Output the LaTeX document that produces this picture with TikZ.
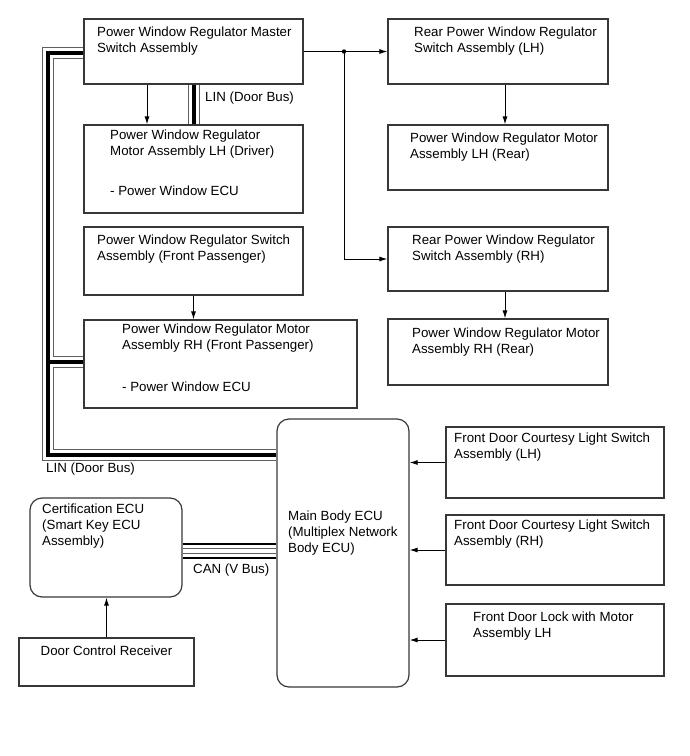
\documentclass[tikz,border=0pt]{standalone}
\usepackage{fontspec}
\setmainfont{Liberation Sans}
\usepackage{tikz}
\usetikzlibrary{arrows.meta}
\definecolor{boxline}{RGB}{55,55,55}
\definecolor{busgray}{RGB}{95,95,95}
\newcommand{\diafont}{\fontsize{13.3}{16}\selectfont}
\tikzset{
  box/.style={rectangle, draw=boxline, line width=1.2pt, inner sep=0pt},
  ecubox/.style={box, rounded corners=12pt},
  txt/.style={anchor=north west, align=left, inner sep=0pt, font=\diafont},
  arrow/.style={-{Latex[length=8pt,width=5pt]}, line width=1pt, color=black},
  linbus/.style={line width=4pt, color=black,
    preaction={draw=busgray, line width=12pt},
    preaction={draw=white, line width=10pt}},
  canbus/.style={line width=3.5pt, color=white,
    preaction={draw=black, line width=16pt},
    preaction={draw=white, line width=12pt},
    preaction={draw=busgray, line width=5.5pt}}
}

\begin{document}
\begin{tikzpicture}[x=1pt, y=-1pt]
  \useasboundingbox (0,0) rectangle (690,756);

  % window side
  \node[box, minimum width=219, minimum height=65] (master) at (193.5,51.5) {};
  \node[box, minimum width=219, minimum height=88] (driver) at (193.5,169) {};
  \node[box, minimum width=219, minimum height=68] (fpswitch) at (193.5,261) {};
  \node[box, minimum width=273, minimum height=88] (fpmotor) at (220.5,364) {};
  \node[box, minimum width=220, minimum height=65] (rlswitch) at (498,51.5) {};
  \node[box, minimum width=220, minimum height=65] (rlmotor) at (498,157.5) {};
  \node[box, minimum width=220, minimum height=64] (rrswitch) at (498,259) {};
  \node[box, minimum width=220, minimum height=66] (rrmotor) at (498,352) {};

  % body side
  \node[ecubox, minimum width=132, minimum height=268] (mainecu) at (343,553) {};
  \node[box, minimum width=218, minimum height=71] (courtlh) at (555,462.5) {};
  \node[box, minimum width=218, minimum height=70] (courtrh) at (555,550) {};
  \node[box, minimum width=218, minimum height=72] (doorlock) at (555,640) {};
  \node[ecubox, minimum width=152, minimum height=99] (certecu) at (106,547.5) {};
  \node[box, minimum width=175, minimum height=48] (receiver) at (106.5,662) {};

  \node[txt] (tmaster) at (97,27) {Power Window Regulator Master\\Switch Assembly};
  \node[txt] (tdriver) at (110,130) {Power Window Regulator\\Motor Assembly LH (Driver)\\[24pt]- Power Window ECU};
  \node[txt] (tfpswitch) at (97,235) {Power Window Regulator Switch\\Assembly (Front Passenger)};
  \node[txt] (tfpmotor) at (122,324) {Power Window Regulator Motor\\Assembly RH (Front Passenger)\\[26pt]- Power Window ECU};
  \node[txt] (trlswitch) at (414,27) {Rear Power Window Regulator\\Switch Assembly (LH)};
  \node[txt] (trlmotor) at (410,133) {Power Window Regulator Motor\\Assembly LH (Rear)};
  \node[txt] (trrswitch) at (412,235) {Rear Power Window Regulator\\Switch Assembly (RH)};
  \node[txt] (trrmotor) at (412,328) {Power Window Regulator Motor\\Assembly RH (Rear)};
  \node[txt] (tmainecu) at (288,511) {Main Body ECU\\(Multiplex Network\\Body ECU)};
  \node[txt] (tcourtlh) at (454,433) {Front Door Courtesy Light Switch\\Assembly (LH)};
  \node[txt] (tcourtrh) at (454,520) {Front Door Courtesy Light Switch\\Assembly (RH)};
  \node[txt] (tdoorlock) at (473,612) {Front Door Lock with Motor\\Assembly LH};
  \node[txt] (tcertecu) at (42,504) {Certification ECU\\(Smart Key ECU\\Assembly)};
  \node[txt, anchor=north] (treceiver) at (receiver.north |- 0,646) {Door Control Receiver};
  \node[txt] (linup) at (205,92) {LIN (Door Bus)};
  \node[txt] (lindown) at (46,463) {LIN (Door Bus)};
  \node[txt] (canlbl) at (193,564) {CAN (V Bus)};

  % buses
  \coordinate (linstart) at ([yshift=-1.5pt]master.west);
  \coordinate (lintop) at (48,53);
  \coordinate (lintee) at (48,362);
  \coordinate (linbot) at (48,455);
  \draw[linbus] (linstart) -- (lintop) -- (linbot) -- (linbot -| mainecu.west)
    (lintee) -- (lintee -| fpmotor.west);
  \draw[linbus] (master.south) -- (master.south |- driver.north);
  \coordinate (canstart) at ([yshift=-3.5pt]certecu.east);
  \draw[canbus] (canstart) -- (canstart -| mainecu.west);

  % signal lines
  \coordinate (split) at (master.east -| 344,0);
  \draw[arrow] (master.east) -- (rlswitch.west);
  \draw[arrow] (split) |- (rrswitch.west);
  \fill (split) circle (2.2pt);
  \draw[arrow] ([xshift=-46.5pt]master.south) -- ([xshift=-46.5pt]driver.north);
  \draw[arrow] ([xshift=7pt]rlswitch.south) -- ([xshift=7pt]rlmotor.north);
  \draw[arrow] ([xshift=7pt]rrswitch.south) -- ([xshift=7pt]rrmotor.north);
  \draw[arrow] (fpswitch.south) -- (fpswitch.south |- fpmotor.north);
  \draw[arrow] (courtlh.west) -- (courtlh.west -| mainecu.east);
  \draw[arrow] (courtrh.west) -- (courtrh.west -| mainecu.east);
  \draw[arrow] (doorlock.west) -- (doorlock.west -| mainecu.east);
  \draw[arrow] (receiver.north) -- (receiver.north |- certecu.south);
\end{tikzpicture}
\end{document}
